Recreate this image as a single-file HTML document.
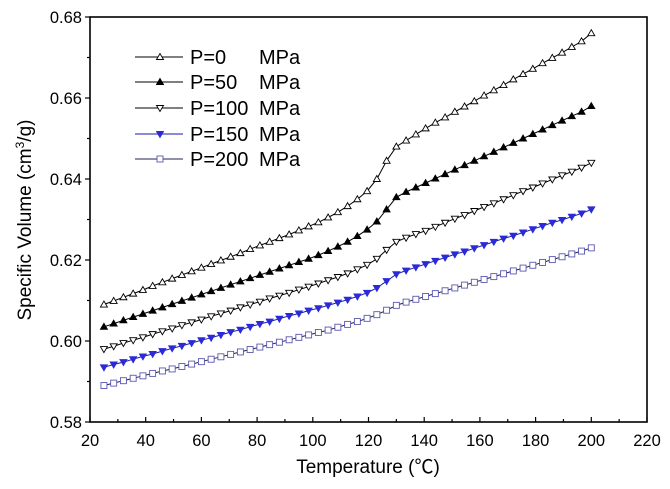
<!DOCTYPE html>
<html><head><meta charset="utf-8"><style>
body{margin:0;background:#fff;}
svg{display:block;font-family:"Liberation Sans",Arial,"Noto Sans CJK SC",sans-serif;}
</style></head><body>
<svg id="chart" width="670" height="489" viewBox="0 0 670 489" xmlns="http://www.w3.org/2000/svg"></svg>
<script>
const xTicks=[20,40,60,80,100,120,140,160,180,200,220];
const yTicks=[0.58,0.60,0.62,0.64,0.66,0.68];
const seriesNames=["P=0","P=50","P=100","P=150","P=200"];
const temps=[];
for(let i=0;i<51;i++)temps.push(25+3.5*i);
const p0=[.609,.6099,.6108,.6117,.6126,.6136,.6145,.6154,.6163,.6172,.6181,.6190,.6199,.6208,.6217,.6227,.6236,.6245,.6254,.6263,.6273,.6283,.6293,.6305,.6318,.6333,.6350,.6370,.6400,.6445,.6480,.6495,.6510,.6525,.6539,.6552,.6566,.6579,.6592,.6606,.6619,.6632,.6646,.6659,.6672,.6686,.6699,.6712,.6726,.6740,.6760];
const p50=[.6035,.6043,.6051,.6059,.6067,.6075,.6083,.6091,.6099,.6107,.6115,.6123,.6131,.6139,.6147,.6155,.6163,.6171,.6179,.6187,.6195,.6203,.6212,.6222,.6233,.6245,.6259,.6275,.6295,.6325,.6355,.6368,.6379,.6390,.6401,.6412,.6423,.6434,.6445,.6456,.6467,.6478,.6489,.6500,.6511,.6522,.6533,.6544,.6555,.6566,.6580];
const p100=[.5980,.5987,.5995,.6002,.6009,.6017,.6024,.6031,.6039,.6046,.6053,.6061,.6068,.6075,.6083,.6090,.6097,.6105,.6112,.6119,.6127,.6134,.6142,.6150,.6158,.6167,.6177,.6188,.6203,.6225,.6245,.6255,.6264,.6272,.6282,.6292,.6302,.6311,.6321,.6331,.6340,.6350,.6360,.6370,.6379,.6389,.6399,.6409,.6418,.6428,.6440];
const p150=[.5935,.5942,.5948,.5955,.5962,.5968,.5975,.5982,.5988,.5995,.6002,.6008,.6015,.6022,.6028,.6035,.6042,.6048,.6055,.6062,.6068,.6075,.6081,.6088,.6095,.6102,.6110,.6119,.6131,.6148,.6165,.6174,.6182,.6190,.6198,.6206,.6214,.6221,.6229,.6237,.6245,.6253,.6260,.6268,.6276,.6284,.6292,.6299,.6307,.6315,.6325];
const p200=[.5890,.5896,.5902,.5908,.5914,.5920,.5926,.5931,.5937,.5943,.5949,.5955,.5961,.5967,.5973,.5979,.5985,.5991,.5997,.6003,.6009,.6015,.6021,.6027,.6034,.6041,.6048,.6056,.6065,.6076,.6088,.6096,.6103,.6110,.6117,.6124,.6131,.6138,.6145,.6152,.6159,.6166,.6173,.6180,.6187,.6194,.6201,.6208,.6215,.6222,.6230];

const L=90,R=647,T=17,B=422;
const xS=v=>L+(v-20)/200*(R-L);
const yS=v=>B-(v-0.58)/0.10*(B-T);
const NS="http://www.w3.org/2000/svg";
const svg=document.getElementById('chart');
function mk(tag,attrs,parent){const e=document.createElementNS(NS,tag);for(const k in attrs)e.setAttribute(k,attrs[k]);(parent||svg).appendChild(e);return e;}

const styles=[
 {data:p0,line:"#000",mk:"up",fill:"#fff",stroke:"#000"},
 {data:p50,line:"#000",mk:"up",fill:"#000",stroke:"#000"},
 {data:p100,line:"#000",mk:"down",fill:"#fff",stroke:"#000"},
 {data:p150,line:"#1a1aa8",mk:"down",fill:"#2a2ad8",stroke:"#2a2ad8"},
 {data:p200,line:"#202050",mk:"sq",fill:"#fff",stroke:"#5a58b0"}
];
function marker(g,type,x,y,st){
  let e;
  if(type==="up")e=mk('polygon',{points:`${x},${y-3.5} ${x-3.5},${y+2.5} ${x+3.5},${y+2.5}`,fill:st.fill,stroke:st.stroke,'stroke-width':0.9},g);
  else if(type==="down")e=mk('polygon',{points:`${x},${y+3.5} ${x-3.5},${y-2.5} ${x+3.5},${y-2.5}`,fill:st.fill,stroke:st.stroke,'stroke-width':0.9},g);
  else e=mk('rect',{x:x-3,y:y-3,width:6,height:6,fill:st.fill,stroke:st.stroke,'stroke-width':0.9},g);
  
  
}
styles.forEach((st,si)=>{
  const g=mk('g',{});
  
  
  const pts=temps.map((t,i)=>xS(t).toFixed(1)+","+yS(st.data[i]).toFixed(1)).join(" ");
  mk('polyline',{points:pts,fill:"none",stroke:st.line,'stroke-width':1},g);
  temps.forEach((t,i)=>marker(g,st.mk,xS(t),yS(st.data[i]),st));
});

const frame=mk('rect',{x:L,y:T,width:R-L,height:B-T,fill:"none",stroke:"#000",'stroke-width':1.6});


xTicks.forEach((v,i)=>{
  const x=xS(v);
  mk('line',{x1:x,y1:B,x2:x,y2:B-5,stroke:"#000",'stroke-width':1.2});
  if(i<xTicks.length-1){const xm=xS(v+10);mk('line',{x1:xm,y1:B,x2:xm,y2:B-3,stroke:"#000",'stroke-width':1.2});}
  const t=mk('text',{x:x,y:B+24,'text-anchor':'middle','font-size':16.5,fill:'#000'});
  t.textContent=v;
  
  
});
yTicks.forEach((v,i)=>{
  const y=yS(v);
  mk('line',{x1:L,y1:y,x2:L-5,y2:y,stroke:"#000",'stroke-width':1.2});
  if(i<yTicks.length-1){const ym=yS(v+0.01);mk('line',{x1:L,y1:ym,x2:L-3,y2:ym,stroke:"#000",'stroke-width':1.2});}
  const t=mk('text',{x:L-8,y:y+6,'text-anchor':'end','font-size':16.5,fill:'#000'});
  t.textContent=v.toFixed(2);
  
  
});
const xt=mk('text',{x:368,y:473,'text-anchor':'middle','font-size':19,fill:'#000'});
xt.textContent="Temperature (℃)";


const yt=mk('text',{x:0,y:0,'text-anchor':'middle','font-size':19,fill:'#000',transform:'translate(31,220) rotate(-90)'});
yt.innerHTML='Specific Volume (cm<tspan dy="-7" font-size="12">3</tspan><tspan dy="7">/g)</tspan>';



const lg=mk('g',{});


const rows=[57,82,108,134,159];
styles.forEach((st,i)=>{
  const g=mk('g',{},lg);
  
  
  mk('line',{x1:135,y1:rows[i],x2:183,y2:rows[i],stroke:st.line,'stroke-width':1},g);
  marker(g,st.mk,160,rows[i],st);
  const t=mk('text',{x:190,y:rows[i]+7,'font-size':20,fill:'#000'},g);
  t.textContent=seriesNames[i];
  const u=mk('text',{x:259,y:rows[i]+7,'font-size':20,fill:'#000'},g);
  u.textContent="MPa";
});
</script>
</body></html>
